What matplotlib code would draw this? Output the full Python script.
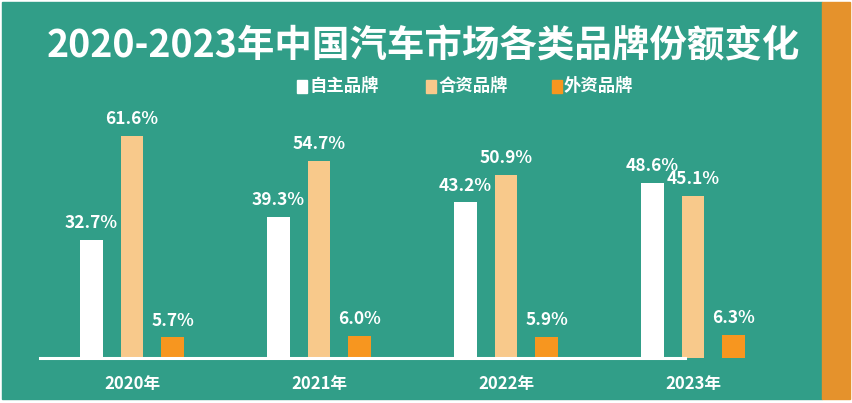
import matplotlib.pyplot as plt
import matplotlib.patches as mpatches
import numpy as np

plt.rcParams['font.family'] = ['Noto Sans CJK SC', 'DejaVu Sans']

# data
years = ["2020年", "2021年", "2022年", "2023年"]
series_names = ["自主品牌", "合资品牌", "外资品牌"]
domestic = [32.7, 39.3, 43.2, 48.6]
joint = [61.6, 54.7, 50.9, 45.1]
foreign = [5.7, 6.0, 5.9, 6.3]

bg = "#319e88"
strip = "#e5922c"
colors = ["#ffffff", "#f8c98b", "#f7961f"]

W, H = 852, 403
fig = plt.figure(figsize=(W / 100, H / 100), dpi=100)
fig.patch.set_facecolor("white")

def fx(px):
    return px / W

def fy(py):
    return 1 - py / H

# background panel and the orange strip on the right
fig.patches.append(mpatches.Rectangle((fx(2), fy(399)), fx(822) - fx(2), fy(2) - fy(399),
                                      transform=fig.transFigure, color=bg, zorder=-2))
fig.patches.append(mpatches.Rectangle((fx(822), fy(399)), fx(850) - fx(822), fy(2) - fy(399),
                                      transform=fig.transFigure, color=strip, zorder=-2))

# axes: baseline at y=358px, 3.6 px per percent
ax_left, ax_right = 40, 822
ax = fig.add_axes([fx(ax_left), fy(358), fx(ax_right) - fx(ax_left), 252 / H])
ax.set_zorder(5)
ax.set_facecolor("none")
x = np.arange(len(years))
x0_px, step_px = 132, 187
ax.set_xlim((ax_left - x0_px) / step_px, (ax_right - x0_px) / step_px)
ax.set_ylim(0, 70)

offset = 40.5 / step_px
width = 22.5 / step_px
for i, (vals, c) in enumerate(zip([domestic, joint, foreign], colors)):
    pos = x + (i - 1) * offset
    ax.bar(pos, vals, width=width, color=c, zorder=2)
    for p, v in zip(pos, vals):
        ax.text(p, v + 2.2, f"{v:.1f}%", ha="center", va="bottom", color="white",
                fontsize=12.5, fontweight="bold")

# baseline
ax.plot([0, (685 - ax_left) / (ax_right - ax_left)], [0, 0], transform=ax.transAxes,
        color="white", lw=2.2, clip_on=False, zorder=3)

ax.set_xticks(x)
ax.set_xticklabels(years, color="white", fontsize=12, fontweight="bold")
ax.tick_params(axis="x", length=0, pad=12)
ax.set_yticks([])
for s in ax.spines.values():
    s.set_visible(False)

# title
fig.text(fx(800), fy(46), "2020-2023年中国汽车市场各类品牌份额变化", ha="right", va="center",
         color="white", fontsize=27, fontweight="bold")

# legend
leg_sq = [297, 426, 552]
for sx, name, c in zip(leg_sq, series_names, colors):
    fig.patches.append(mpatches.Rectangle((fx(sx), fy(93)), fx(10), 13 / H,
                                          transform=fig.transFigure, color=c))
    fig.text(fx(sx + 12), fy(86), name, ha="left", va="center", color="white",
             fontsize=12.5, fontweight="bold")

fig.savefig("out.png", dpi=100, facecolor=fig.get_facecolor())
